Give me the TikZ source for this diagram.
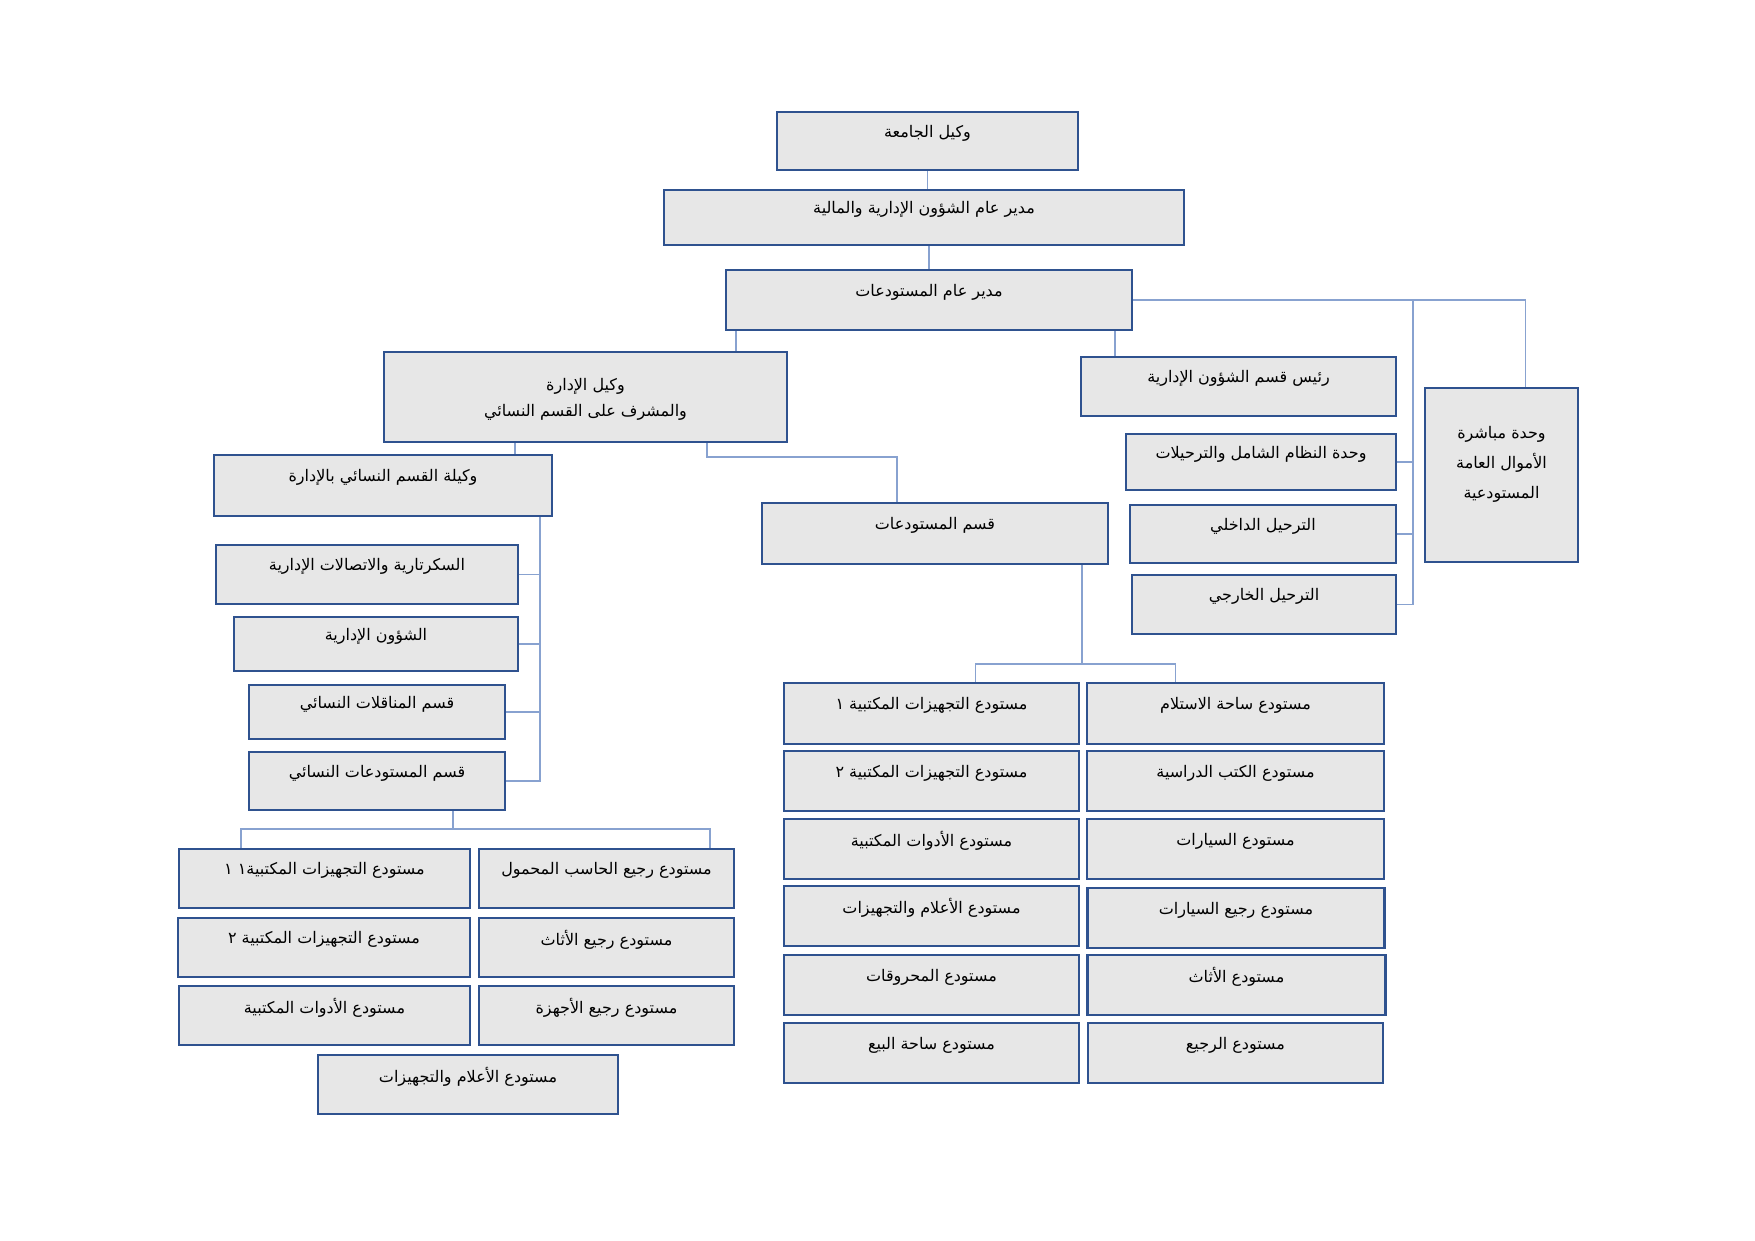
\documentclass[tikz,border=0pt]{standalone}
\usepackage{fontspec}
\newfontfamily\arabicfont[Script=Arabic]{DejaVu Sans}
\TeXXeTstate=1
\definecolor{boxfill}{RGB}{231,231,231}
\definecolor{boxline}{RGB}{47,82,143}
\definecolor{linkline}{RGB}{136,162,208}
\begin{document}
\begin{tikzpicture}[
    x=1pt, y=-1pt,
    box/.style={draw=boxline, fill=boxfill, line width=2.2pt, inner sep=0pt},
    lbl/.style={font=\arabicfont\fontsize{16}{26}\selectfont, align=center, yshift=8pt},
    link/.style={draw=linkline, line width=1.3pt}
    ]
\useasboundingbox (0,0) rectangle (1755,1240);
% top chain
\node [box, minimum width=301pt, minimum height=58pt, label={[lbl]center:\beginR وكيل الجامعة\endR}] (vj) at (927.5,141) {};
\node [box, minimum width=520pt, minimum height=55pt, label={[lbl]center:\beginR مدير عام الشؤون الإدارية والمالية\endR}] (mdsh) at (924,217.5) {};
\node [box, minimum width=406pt, minimum height=60pt, label={[lbl]center:\beginR مدير عام المستودعات\endR}] (mdst) at (929,300) {};
% second level
\node [box, minimum width=403pt, minimum height=90pt, label={[lbl, yshift=-10pt]center:{\beginR وكيل الإدارة\endR\\\beginR والمشرف على القسم النسائي\endR}}] (wid) at (585.5,397) {};
\node [box, minimum width=315pt, minimum height=59pt, label={[lbl]center:\beginR رئيس قسم الشؤون الإدارية\endR}] (rq) at (1238.5,386.5) {};
\node [box, minimum width=153pt, minimum height=174pt, label={[lbl, font=\arabicfont\fontsize{16}{30}\selectfont, yshift=3pt]center:{\beginR وحدة مباشرة\endR\\\beginR الأموال العامة\endR\\\beginR المستودعية\endR}}] (wm) at (1501.5,475) {};
\node [box, minimum width=270pt, minimum height=56pt, label={[lbl]center:\beginR وحدة النظام الشامل والترحيلات\endR}] (wn) at (1261,462) {};
\node [box, minimum width=266pt, minimum height=58pt, label={[lbl]center:\beginR الترحيل الداخلي\endR}] (td) at (1263,534) {};
\node [box, minimum width=264pt, minimum height=59pt, label={[lbl]center:\beginR الترحيل الخارجي\endR}] (tk) at (1264,604.5) {};
\node [box, minimum width=346pt, minimum height=61pt, label={[lbl]center:\beginR قسم المستودعات\endR}] (qm) at (935,533.5) {};
% women's section
\node [box, minimum width=338pt, minimum height=61pt, label={[lbl]center:\beginR وكيلة القسم النسائي بالإدارة\endR}] (wq) at (383,485.5) {};
\node [box, minimum width=302pt, minimum height=59pt, label={[lbl]center:\beginR السكرتارية والاتصالات الإدارية\endR}] (sk) at (367,574.5) {};
\node [box, minimum width=284pt, minimum height=54pt, label={[lbl]center:\beginR الشؤون الإدارية\endR}] (sh) at (376,644) {};
\node [box, minimum width=256pt, minimum height=54pt, label={[lbl]center:\beginR قسم المناقلات النسائي\endR}] (mn) at (377,712) {};
\node [box, minimum width=256pt, minimum height=58pt, label={[lbl]center:\beginR قسم المستودعات النسائي\endR}] (mq) at (377,781) {};
% women's stores
\node [box, minimum width=291pt, minimum height=59pt, label={[lbl]center:\beginR مستودع التجهيزات المكتبية١ ١\endR}] (la1) at (324.5,878.5) {};
\node [box, minimum width=255pt, minimum height=59pt, label={[lbl]center:\beginR مستودع رجيع الحاسب المحمول\endR}] (lb1) at (606.5,878.5) {};
\node [box, minimum width=292pt, minimum height=59pt, label={[lbl]center:\beginR مستودع التجهيزات المكتبية ٢\endR}] (la2) at (324,947.5) {};
\node [box, minimum width=255pt, minimum height=59pt, label={[lbl]center:\beginR مستودع رجيع الأثاث\endR}] (lb2) at (606.5,947.5) {};
\node [box, minimum width=291pt, minimum height=59pt, label={[lbl]center:\beginR مستودع الأدوات المكتبية\endR}] (la3) at (324.5,1015.5) {};
\node [box, minimum width=255pt, minimum height=59pt, label={[lbl]center:\beginR مستودع رجيع الأجهزة\endR}] (lb3) at (606.5,1015.5) {};
\node [box, minimum width=300pt, minimum height=59pt, label={[lbl]center:\beginR مستودع الأعلام والتجهيزات\endR}] (l4) at (468,1084.5) {};
% stores
\node [box, minimum width=295pt, minimum height=61pt, label={[lbl]center:\beginR مستودع التجهيزات المكتبية ١\endR}] (ra1) at (931.5,713.5) {};
\node [box, minimum width=297pt, minimum height=61pt, label={[lbl]center:\beginR مستودع ساحة الاستلام\endR}] (rb1) at (1235.5,713.5) {};
\node [box, minimum width=295pt, minimum height=60pt, label={[lbl]center:\beginR مستودع التجهيزات المكتبية ٢\endR}] (ra2) at (931.5,781) {};
\node [box, minimum width=297pt, minimum height=60pt, label={[lbl]center:\beginR مستودع الكتب الدراسية\endR}] (rb2) at (1235.5,781) {};
\node [box, minimum width=295pt, minimum height=60pt, label={[lbl]center:\beginR مستودع الأدوات المكتبية\endR}] (ra3) at (931.5,849) {};
\node [box, minimum width=297pt, minimum height=60pt, label={[lbl]center:\beginR مستودع السيارات\endR}] (rb3) at (1235.5,849) {};
\node [box, minimum width=295pt, minimum height=60pt, label={[lbl]center:\beginR مستودع الأعلام والتجهيزات\endR}] (ra4) at (931.5,916) {};
\node [box, minimum width=297pt, minimum height=60pt, label={[lbl]center:\beginR مستودع رجيع السيارات\endR}] (rb4) at (1236,918) {};
\node [box, minimum width=295pt, minimum height=60pt, label={[lbl]center:\beginR مستودع المحروقات\endR}] (ra5) at (931.5,985) {};
\node [box, minimum width=298pt, minimum height=60pt, label={[lbl]center:\beginR مستودع الأثاث\endR}] (rb5) at (1236.5,985) {};
\node [box, minimum width=295pt, minimum height=60pt, label={[lbl]center:\beginR مستودع ساحة البيع\endR}] (ra6) at (931.5,1053) {};
\node [box, minimum width=295pt, minimum height=60pt, label={[lbl]center:\beginR مستودع الرجيع\endR}] (rb6) at (1235.5,1053) {};
% hubs
\coordinate (rbus) at ([xshift=16pt]tk.east |- mdst.east);
\coordinate (lbus) at ([xshift=-13pt]wq.south east);
\coordinate (wqm) at (707,457);
\coordinate (lhub) at (453,829);
\coordinate (rhub) at (1082,664);
% connectors
\draw [link] (vj.south) -- (vj.south |- mdsh.north);
\draw [link] (mdst.north) -- (mdst.north |- mdsh.south);
\draw [link] (mdst.east) -| ([xshift=24pt]wm.north);
\draw [link] (rbus) |- (tk.east);
\draw [link] (rbus |- wn.east) -- (wn.east);
\draw [link] (rbus |- td.east) -- (td.east);
\draw [link] ([xshift=-18pt]mdst.south east) -- ([xshift=-18pt]mdst.south east |- rq.north);
\draw [link] ([xshift=11pt]mdst.south west) -- ([xshift=11pt]mdst.south west |- wid.north);
\draw [link] ([xshift=132pt]wid.south west) -- ([xshift=132pt]wid.south west |- wq.north);
\draw [link] (wqm |- wid.south) -- (wqm) -| ([xshift=-38pt]qm.north);
\draw [link] (lbus) |- (mq.east);
\draw [link] (lbus |- sk.east) -- (sk.east);
\draw [link] (lbus |- sh.east) -- (sh.east);
\draw [link] (lbus |- mn.east) -- (mn.east);
\draw [link] (lhub |- mq.south) -- (lhub);
\draw [link] (lhub) -| ([xshift=63pt]la1.north west);
\draw [link] (lhub) -| ([xshift=-25pt]lb1.north east);
\draw [link] (rhub |- qm.south) -- (rhub);
\draw [link] (rhub) -| ([xshift=44pt]ra1.north);
\draw [link] (rhub) -| ([xshift=-60pt]rb1.north);
\end{tikzpicture}
\end{document}
